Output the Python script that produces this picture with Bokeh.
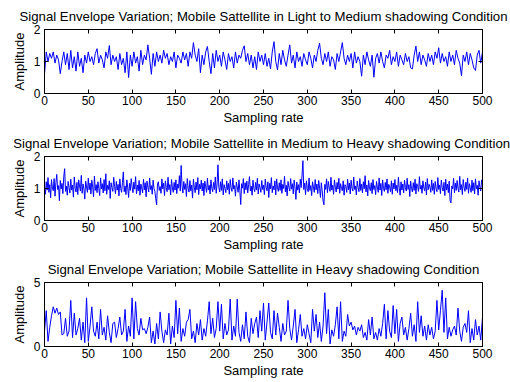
from bokeh.plotting import figure
from bokeh.models import LinearAxis, FixedTicker, Range1d
from bokeh.layouts import column
from bokeh.embed import file_html
from bokeh.resources import INLINE

# ---------------- data ----------------
titles = [
    "Signal Envelope Variation; Mobile Sattellite in Light to Medium shadowing Condition",
    "Signal Envelope Variation; Mobile Sattellite in Medium  to Heavy shadowing Condition",
    "Signal Envelope Variation; Mobile Sattellite in Heavy shadowing Condition",
]
x_label = "Sampling rate"
y_label = "Amplitude"
x_ticks = [0, 50, 100, 150, 200, 250, 300, 350, 400, 450, 500]
y_ticks_light = [0, 1, 2]
y_ticks_medium = [0, 1, 2]
y_ticks_heavy = [0, 5]

# samples 0,2,4,...,500
light_samples = list(range(0, 501, 2))
light = [
    0.6, 1.3, 1.0, 1.25, 1.1, 1.3, 0.95, 1.2, 1.05, 0.62,
    1.0, 1.3, 0.9, 1.25, 0.75, 1.35, 0.8, 1.15, 0.7, 1.3,
    0.85, 1.1, 0.65, 1.2, 0.95, 1.3, 1.0, 1.15, 0.9, 1.25,
    1.4, 0.95, 1.2, 1.05, 0.8, 1.3, 1.1, 1.5, 0.9, 1.2,
    1.0, 1.15, 0.75, 1.25, 0.9, 1.1, 0.65, 1.3, 0.5, 1.2,
    0.85, 1.3, 0.95, 1.15, 0.7, 1.35, 0.9, 1.2, 1.05, 1.52,
    1.1, 0.6, 1.25, 0.85, 1.3, 1.0, 1.2, 0.95, 1.35, 1.1,
    1.25, 0.9, 1.15, 1.0, 1.3, 0.8, 1.2, 1.1, 0.95, 1.3,
    1.05, 1.25, 0.85, 1.3, 1.1, 1.59, 1.2, 1.0, 1.4, 0.65,
    1.2, 0.9, 1.3, 1.47, 1.0, 0.62, 1.25, 0.8, 1.35, 1.0,
    1.2, 0.85, 1.3, 1.05, 0.75, 1.25, 1.0, 1.15, 0.8, 1.3,
    0.95, 1.2, 1.1, 1.35, 1.49, 1.0, 1.25, 0.9, 1.2, 0.8,
    1.15, 0.75, 1.3, 1.0, 1.2, 0.9, 1.25, 0.85, 1.1, 0.77,
    1.3, 1.62, 1.0, 0.74, 1.25, 0.9, 1.35, 1.05, 0.85, 1.2,
    1.52, 0.95, 1.2, 0.8, 1.3, 1.0, 1.15, 0.85, 1.25, 1.05,
    0.9, 1.3, 1.1, 0.8, 1.2, 1.0, 1.35, 1.57, 1.1, 0.9,
    1.25, 1.0, 1.3, 0.85, 1.15, 1.05, 0.75, 1.25, 1.0, 1.3,
    1.59, 1.1, 0.9, 1.2, 1.0, 1.25, 0.8, 1.3, 0.95, 1.15,
    1.0, 0.54, 1.2, 0.9, 1.3, 1.05, 0.85, 1.2, 0.51, 1.1,
    1.25, 0.95, 1.3, 1.0, 0.8, 1.2, 1.1, 1.35, 0.9, 1.15,
    1.0, 1.3, 0.85, 1.2, 1.05, 0.9, 1.25, 1.0, 1.15, 0.8,
    0.77, 1.2, 1.48, 1.0, 1.3, 0.9, 1.2, 1.05, 0.85, 1.25,
    1.0, 1.2, 0.9, 1.3, 1.1, 1.43, 0.95, 1.25, 1.0, 1.15,
    0.85, 1.3, 1.0, 1.2, 0.9, 1.35, 1.1, 0.95, 0.56, 1.2,
    1.0, 1.3, 0.9, 1.25, 1.05, 0.8, 0.72, 1.2, 1.35, 0.95, 1.3,
]

# samples 0,1,2,...,500
medium_samples = list(range(0, 501))
medium = [
    1.05, 0.82, 1.21, 0.95, 1.34, 0.88, 1.12, 0.71, 1.28, 1.02,
    0.93, 1.31, 0.76, 1.18, 1.44, 0.97, 1.09, 0.62, 1.25, 0.99,
    1.16, 0.84, 1.38, 1.62, 0.91, 1.07, 0.79, 1.22, 1.03, 0.86,
    1.29, 0.95, 1.11, 0.73, 1.36, 1.01, 0.89, 1.19, 0.81, 1.27,
    1.08, 0.92, 1.41, 0.85, 1.14, 0.98, 0.67, 1.23, 1.05, 0.88,
    1.32, 0.96, 1.17, 0.83, 1.26, 1.04, 0.74, 1.39, 0.94, 1.12,
    0.87, 1.21, 1.01, 0.78, 1.33, 0.99, 1.15, 0.86, 1.28, 0.93,
    1.46, 0.82, 1.10, 0.97, 1.24, 0.69, 1.18, 1.03, 0.91, 1.35,
    1.06, 0.84, 1.22, 0.95, 1.13, 0.77, 1.30, 1.00, 0.88, 1.19,
    1.52, 0.90, 1.08, 0.81, 1.27, 1.02, 0.72, 1.16, 0.94, 1.31,
    1.05, 0.87, 1.20, 0.98, 1.37, 0.83, 1.11, 0.93, 1.25, 0.79,
    1.14, 1.01, 0.86, 1.29, 0.96, 1.18, 0.74, 1.23, 1.04, 0.89,
    1.33, 0.97, 1.09, 0.82, 1.26, 1.00, 0.91, 0.68, 0.49, 1.15,
    1.21, 0.94, 1.06, 0.85, 1.30, 0.99, 1.17, 0.78, 1.24, 1.03,
    0.90, 1.35, 0.96, 1.12, 0.80, 1.28, 1.02, 0.88, 1.19, 0.95,
    1.27, 0.84, 1.14, 1.01, 1.40, 0.92, 1.72, 1.08, 0.86, 1.22,
    0.97, 1.15, 0.75, 1.31, 1.00, 0.89, 1.25, 0.93, 1.11, 0.70,
    1.29, 1.04, 0.87, 1.20, 0.96, 1.34, 0.81, 1.13, 0.99, 1.26,
    0.92, 1.17, 0.78, 1.23, 1.05, 0.88, 1.32, 0.95, 1.10, 0.83,
    1.27, 1.01, 0.90, 1.19, 0.97, 1.36, 0.85, 1.14, 1.74, 1.03,
    0.89, 1.21, 0.94, 1.30, 0.80, 1.12, 1.00, 0.87, 1.24, 0.96,
    1.16, 0.82, 1.28, 1.02, 0.91, 1.33, 0.98, 1.09, 0.76, 1.20,
    1.05, 0.88, 1.27, 0.93, 0.50, 1.15, 1.01, 1.31, 0.84, 1.18,
    0.96, 1.23, 0.86, 1.12, 1.37, 0.92, 1.07, 0.79, 1.26, 1.00,
    0.90, 1.19, 0.95, 1.32, 0.83, 1.14, 1.03, 0.88, 1.25, 0.97,
    1.11, 0.81, 1.29, 1.04, 0.93, 1.21, 0.72, 1.16, 0.99, 1.34,
    0.87, 1.08, 0.96, 1.24, 0.80, 1.30, 1.02, 0.91, 1.18, 0.94,
    1.27, 0.85, 1.13, 1.00, 1.38, 0.89, 1.10, 0.77, 1.22, 1.04,
    0.92, 1.31, 0.98, 1.15, 0.83, 1.26, 1.01, 0.66, 1.20, 0.95,
    1.12, 0.86, 1.29, 1.03, 1.42, 1.87, 0.97, 1.17, 0.81, 1.24,
    1.00, 0.90, 1.33, 0.94, 1.09, 0.78, 1.21, 1.05, 0.88, 1.28,
    0.96, 1.14, 0.84, 1.25, 1.01, 0.72, 1.18, 0.93, 0.61, 0.49,
    1.13, 0.97, 1.30, 0.87, 1.22, 1.02, 0.91, 1.35, 0.95, 1.10,
    0.82, 1.27, 1.04, 0.89, 1.19, 0.98, 1.32, 0.85, 1.15, 1.00,
    0.93, 1.24, 0.79, 1.12, 1.06, 0.88, 1.29, 0.96, 1.17, 0.83,
    1.26, 1.01, 0.92, 1.36, 0.97, 1.08, 0.80, 1.23, 1.03, 0.90,
    1.31, 0.94, 1.14, 0.86, 1.21, 0.99, 1.40, 0.89, 1.11, 0.77,
    1.25, 1.02, 0.93, 1.18, 0.84, 1.28, 0.97, 1.09, 0.81, 1.22,
    1.04, 0.88, 1.33, 0.95, 1.16, 0.78, 1.27, 1.00, 0.91, 1.19,
    0.96, 1.30, 0.85, 1.13, 1.05, 0.90, 1.24, 0.82, 1.17, 0.99,
    1.28, 0.93, 1.10, 0.87, 1.35, 1.01, 0.79, 1.21, 0.95, 1.14,
    0.86, 1.26, 1.03, 0.92, 1.32, 0.97, 1.12, 0.75, 1.23, 1.00,
    0.89, 1.18, 0.94, 1.29, 0.83, 1.15, 1.06, 0.91, 1.37, 0.98,
    1.10, 0.85, 1.24, 1.02, 0.93, 1.20, 0.80, 1.31, 0.96, 1.13,
    1.05, 0.88, 1.27, 0.94, 1.16, 0.82, 1.22, 1.00, 0.90, 1.34,
    0.97, 1.11, 0.84, 1.26, 1.03, 0.92, 1.19, 0.78, 1.29, 0.95,
    1.14, 0.87, 1.23, 0.62, 0.55, 1.08, 0.99, 1.32, 0.86, 1.17,
    0.94, 1.25, 1.01, 0.89, 1.38, 0.96, 1.12, 0.81, 1.28, 1.04,
    0.91, 1.20, 0.97, 1.33, 0.85, 1.15, 1.02, 0.88, 1.26, 0.93,
    1.18, 0.83, 1.30, 0.99, 1.10, 0.79, 1.24, 1.05, 0.92, 1.27, 1.12,
]

# samples 0,2,4,...,500
heavy_samples = list(range(0, 501, 2))
heavy = [
    1.2, 2.8, 0.4, 1.5, 2.4, 3.1, 2.6, 3.0, 2.5, 2.7,
    0.9, 1.0, 2.2, 0.8, 1.2, 3.6, 0.7, 2.6, 0.9, 1.4,
    2.2, 0.5, 1.9, 0.3, 3.8, 0.4, 1.6, 3.1, 1.2, 0.8,
    1.9, 0.6, 2.9, 0.9, 1.5, 0.5, 2.4, 1.1, 0.3, 1.8,
    1.9, 0.7, 1.4, 2.3, 0.9, 1.2, 2.9, 0.4, 1.6, 0.8,
    3.8, 0.6, 3.5, 1.4, 0.9, 2.2, 1.3, 1.4, 1.0, 1.5,
    2.3, 0.3, 1.2, 0.2, 1.8, 0.6, 2.7, 1.2, 0.3, 1.3,
    0.9, 2.6, 0.2, 1.6, 0.7, 3.6, 1.0, 3.0, 0.4, 1.4,
    0.8, 1.9, 2.1, 2.9, 0.6, 1.2, 0.3, 1.8, 0.9, 2.1,
    0.5, 1.4, 0.8, 2.0, 3.5, 1.0, 2.2, 0.7, 1.4, 3.5,
    1.2, 3.3, 0.6, 1.8, 0.9, 1.3, 3.7, 0.5, 1.6, 0.8,
    3.7, 1.1, 0.4, 1.7, 0.6, 2.7, 0.8, 0.3, 2.2, 1.0,
    1.8, 2.3, 0.7, 2.8, 1.2, 3.4, 0.5, 1.9, 3.4, 1.1,
    0.6, 2.8, 0.9, 2.6, 1.5, 0.4, 1.8, 0.9, 1.2, 3.6,
    1.4, 0.5, 1.6, 2.9, 0.3, 1.3, 2.5, 0.8, 1.4, 0.6,
    1.7, 1.0, 0.3, 2.9, 1.2, 2.5, 0.7, 1.9, 0.4, 1.6,
    4.2, 1.0, 2.9, 0.2, 1.3, 0.8, 1.7, 3.1, 0.6, 3.5,
    0.4, 1.2, 0.8, 2.5, 1.6, 1.9, 1.3, 1.6, 0.9, 1.5,
    1.2, 1.7, 0.7, 1.1, 0.5, 2.1, 0.9, 2.3, 0.6, 1.1,
    0.5, 1.4, 0.8, 1.8, 3.3, 0.6, 2.8, 1.2, 0.7, 3.2,
    1.0, 2.9, 0.4, 1.8, 2.3, 0.9, 1.5, 0.5, 1.4, 2.6,
    0.8, 1.7, 0.4, 3.5, 1.1, 2.4, 0.8, 1.6, 0.5, 1.7,
    0.9, 1.5, 0.6, 1.2, 3.6, 1.3, 2.8, 4.4, 1.1, 3.8,
    0.6, 1.5, 0.8, 1.3, 1.6, 0.9, 3.0, 1.2, 0.4, 1.5,
    1.8, 1.1, 2.8, 0.3, 1.4, 0.5, 2.1, 0.9, 1.6, 0.5, 2.3,
]

# ---------------- styling ----------------
FONT = "Liberation Sans"
LINE_COLOR = "#0000ff"


def style_axis(ax, ticks, show_labels=True):
    ax.ticker = FixedTicker(ticks=ticks)
    ax.major_tick_in = 4
    ax.major_tick_out = 0
    ax.minor_tick_line_color = None
    ax.axis_line_color = "black"
    ax.major_tick_line_color = "black"
    ax.major_label_text_font = FONT
    ax.axis_label_text_font = FONT
    ax.axis_label_text_font_style = "normal"
    ax.axis_label_text_color = "black"
    ax.axis_label_text_font_size = "13px"
    if show_labels:
        ax.major_label_text_color = "black"
        ax.major_label_text_font_size = "12px"
        ax.major_label_standoff = 2
    else:
        ax.major_label_text_color = None
        ax.major_label_text_font_size = "0px"
        ax.major_label_standoff = 0


def make(title, xs, ys, ymax, yticks, height, top, bottom):
    p = figure(width=510, height=height, output_backend="svg",
               toolbar_location=None,
               x_range=Range1d(0, 500), y_range=Range1d(0, ymax),
               min_border_left=44, min_border_right=28,
               min_border_top=top, min_border_bottom=bottom)
    p.title.text = title
    p.title.align = "center"
    p.title.text_font = FONT
    p.title.text_font_size = "13.2px"
    p.title.text_font_style = "normal"
    p.title.text_color = "black"
    p.title.standoff = 11
    p.xgrid.visible = False
    p.ygrid.visible = False
    p.outline_line_color = "black"
    p.outline_line_alpha = 1.0
    p.background_fill_color = "white"
    p.border_fill_color = "white"

    p.line(xs, ys, line_color=LINE_COLOR, line_width=1)

    xa = p.xaxis[0]
    style_axis(xa, x_ticks)
    xa.axis_label = x_label
    xa.axis_label_standoff = 2
    ya = p.yaxis[0]
    style_axis(ya, yticks)
    ya.axis_label = y_label
    ya.axis_label_standoff = 4
    ya.major_label_standoff = 4

    top_ax = LinearAxis()
    style_axis(top_ax, x_ticks, show_labels=False)
    p.add_layout(top_ax, "above")
    right_ax = LinearAxis()
    style_axis(right_ax, yticks, show_labels=False)
    p.add_layout(right_ax, "right")
    return p


p1 = make(titles[0], light_samples, light, 2, y_ticks_light, 127, 29, 33)
p2 = make(titles[1], medium_samples, medium, 2, y_ticks_medium, 127, 29, 33)
p3 = make(titles[2], heavy_samples, heavy, 5, y_ticks_heavy, 128, 28, 36)

layout = column(p1, p2, p3)
open("out.html", "w").write(file_html(layout, INLINE))
